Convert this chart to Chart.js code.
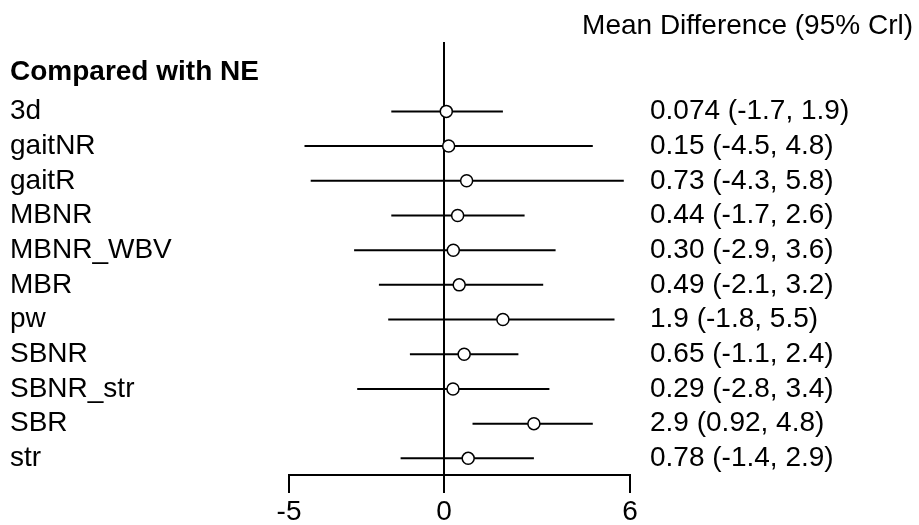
<!DOCTYPE html>
<html lang="en">
<head>
  <meta charset="UTF-8">
  <title>Forest plot</title>
  <script src="https://cdn.jsdelivr.net/npm/chart.js"></script>
  <style>
    body { margin: 0; background: #fff; }
    .wrap { width: 919px; height: 525px; }
  </style>
</head>
<body>
<div class="wrap">
  <canvas id="forest"></canvas>
</div>

<script>
  // treatments compared with NE
  const treatments = ['3d', 'gaitNR', 'gaitR', 'MBNR', 'MBNR_WBV', 'MBR', 'pw', 'SBNR', 'SBNR_str', 'SBR', 'str'];
  const means = [0.074, 0.15, 0.73, 0.44, 0.30, 0.49, 1.9, 0.65, 0.29, 2.9, 0.78];
  const lower = [-1.7, -4.5, -4.3, -1.7, -2.9, -2.1, -1.8, -1.1, -2.8, 0.92, -1.4];
  const upper = [1.9, 4.8, 5.8, 2.6, 3.6, 3.2, 5.5, 2.4, 3.4, 4.8, 2.9];
  const estLabels = ['0.074 (-1.7, 1.9)', '0.15 (-4.5, 4.8)', '0.73 (-4.3, 5.8)', '0.44 (-1.7, 2.6)',
    '0.30 (-2.9, 3.6)', '0.49 (-2.1, 3.2)', '1.9 (-1.8, 5.5)', '0.65 (-1.1, 2.4)',
    '0.29 (-2.8, 3.4)', '2.9 (0.92, 4.8)', '0.78 (-1.4, 2.9)'];
  const xTicks = [-5, 0, 6];
  const groupTitle = 'Compared with NE';
  const estTitle = 'Mean Difference (95% Crl)';

  const FONT = "'Liberation Sans', Arial, sans-serif";
  const rowIdx = treatments.map((t, i) => i);
  const headerRow = -1.13;

  // mean points on top, CI segments underneath
  const datasets = [{
    type: 'scatter',
    data: means.map((m, i) => ({ x: m, y: i })),
    pointRadius: 6,
    pointBackgroundColor: '#fff',
    pointBorderColor: '#000',
    pointBorderWidth: 1.5
  }];
  rowIdx.forEach(i => {
    datasets.push({
      type: 'line',
      data: [{ x: lower[i], y: i }, { x: upper[i], y: i }],
      borderColor: '#000',
      borderWidth: 2,
      pointRadius: 0
    });
  });

  const yRange = { min: -2, max: 10.48, reverse: true };

  new Chart(document.getElementById('forest'), {
    type: 'scatter',
    data: { datasets: datasets },
    options: {
      responsive: true,
      maintainAspectRatio: false,
      animation: false,
      layout: { padding: { left: 10, right: 6, top: 0, bottom: 0 } },
      plugins: {
        legend: { display: false },
        tooltip: { enabled: false },
        title: {
          display: true,
          text: estTitle,
          align: 'end',
          color: '#000',
          font: { family: FONT, size: 28, weight: 'normal', lineHeight: 1 },
          padding: { top: 12, bottom: 2 }
        }
      },
      scales: {
        x: {
          type: 'linear',
          min: -5,
          max: 6,
          afterBuildTicks: s => { s.ticks = xTicks.map(v => ({ value: v })); },
          afterFit: s => { s.height = 50; },
          grid: {
            color: c => (c.tick && c.tick.value === 0 ? '#000' : 'rgba(0,0,0,0)'),
            tickColor: '#000',
            lineWidth: 2,
            tickLength: 18
          },
          border: { display: true, color: '#000', width: 2 },
          ticks: { color: '#000', padding: 2, font: { family: FONT, size: 28 }, autoSkip: false, maxRotation: 0 }
        },
        y: {
          type: 'linear',
          position: 'left',
          ...yRange,
          afterBuildTicks: s => {
            s.ticks = [{ value: headerRow }].concat(rowIdx.map(i => ({ value: i })));
          },
          afterFit: s => { s.width = 279; },
          grid: { display: false, drawTicks: false },
          border: { display: false },
          ticks: {
            autoSkip: false,
            crossAlign: 'far',
            padding: 0,
            color: '#000',
            callback: (v, i) => (i === 0 ? groupTitle : treatments[i - 1]),
            font: c => ({ family: FONT, size: 28, weight: c.index === 0 ? 'bold' : 'normal' })
          }
        },
        y2: {
          type: 'linear',
          position: 'right',
          ...yRange,
          afterBuildTicks: s => { s.ticks = rowIdx.map(i => ({ value: i })); },
          afterFit: s => { s.width = 283; },
          grid: { display: false, drawTicks: false },
          border: { display: false },
          ticks: {
            autoSkip: false,
            crossAlign: 'near',
            padding: 20,
            color: '#000',
            callback: (v, i) => estLabels[i],
            font: { family: FONT, size: 28 }
          }
        }
      }
    }
  });
</script>
</body>
</html>
